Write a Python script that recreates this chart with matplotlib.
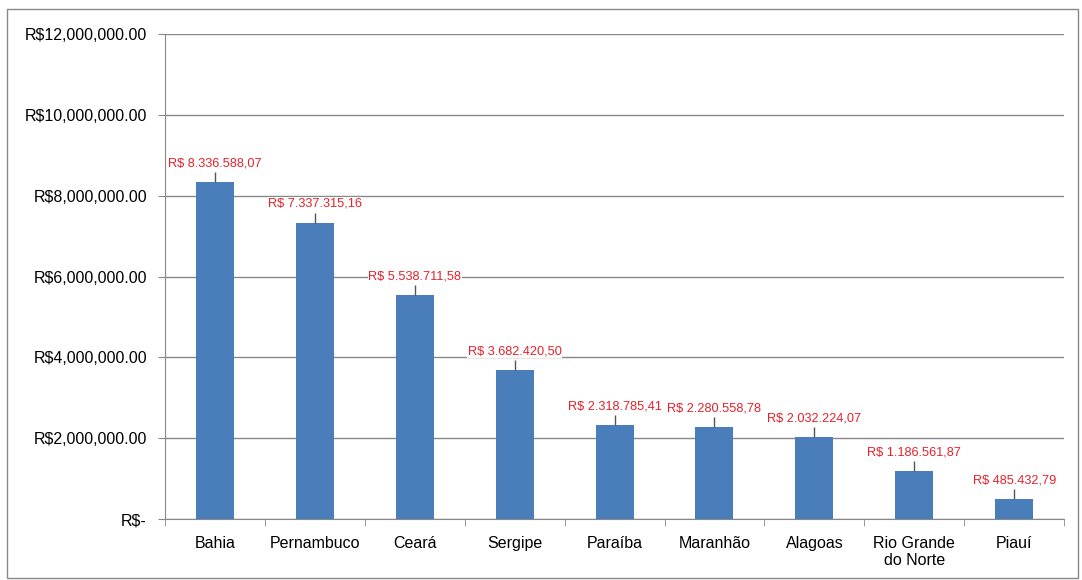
import matplotlib.pyplot as plt
from matplotlib.patches import Rectangle

# Dados
estados = ["Bahia", "Pernambuco", "Ceará", "Sergipe", "Paraíba",
           "Maranhão", "Alagoas", "Rio Grande\ndo Norte", "Piauí"]
valores = [8336588.07, 7337315.16, 5538711.58, 3682420.50, 2318785.41,
           2280558.78, 2032224.07, 1186561.87, 485432.79]
rotulos = ["R$ 8.336.588,07", "R$ 7.337.315,16", "R$ 5.538.711,58",
           "R$ 3.682.420,50", "R$ 2.318.785,41", "R$ 2.280.558,78",
           "R$ 2.032.224,07", "R$ 1.186.561,87", "R$ 485.432,79"]
yticks = [0, 2e6, 4e6, 6e6, 8e6, 10e6, 12e6]
ytick_labels = ["R$-", "R$2,000,000.00", "R$4,000,000.00", "R$6,000,000.00",
                "R$8,000,000.00", "R$10,000,000.00", "R$12,000,000.00"]

plt.rcParams["font.family"] = ["Liberation Sans", "DejaVu Sans"]

fig = plt.figure(figsize=(10.82, 5.80), dpi=100)
ax = fig.add_axes([0.1525, 0.105, 0.831, 0.836])

x = range(len(estados))
ax.bar(x, valores, width=0.38, color="#4a7ebb", zorder=3,
       yerr=[[0] * len(valores), [250000] * len(valores)],
       error_kw=dict(ecolor="#555555", elinewidth=1, capsize=0))

for i, (v, r) in enumerate(zip(valores, rotulos)):
    ax.annotate(r, (i, v + 250000), xytext=(0, 2), textcoords="offset points",
                ha="center", va="bottom", color="#e8202a", fontsize=9.2,
                zorder=4, bbox=dict(facecolor="white", edgecolor="none", pad=0.5))

ax.set_xlim(-0.5, len(estados) - 0.5)
ax.set_ylim(0, 12e6)
ax.set_yticks(yticks)
ax.set_yticklabels(ytick_labels, fontsize=11.5)
ax.set_xticks(list(x))
ax.set_xticklabels(estados, fontsize=11.5)
ax.set_xticks([i - 0.5 for i in range(len(estados) + 1)], minor=True)
ax.tick_params(axis="x", which="major", length=0, pad=12)
ax.tick_params(axis="x", which="minor", length=5, color="#888888")
ax.tick_params(axis="y", length=5, color="#888888", pad=8)

ax.grid(axis="y", color="#888888", linewidth=1, zorder=0)
for s in ["top", "right"]:
    ax.spines[s].set_visible(False)
for s in ["left", "bottom"]:
    ax.spines[s].set_color("#888888")

fig.patches.append(Rectangle((7 / 1082, 2 / 580), 1071 / 1082, 569 / 580,
                             transform=fig.transFigure, fill=False,
                             edgecolor="#888888", linewidth=1))

fig.savefig("out.png", dpi=100)
